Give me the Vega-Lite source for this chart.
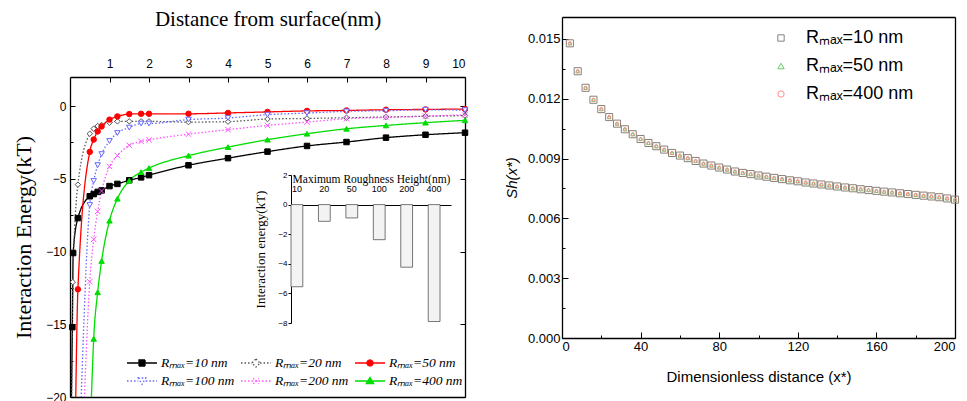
{
  "$schema": "https://vega.github.io/schema/vega-lite/v6.json",
  "background": "white",
  "padding": {"left": 12, "top": 8, "right": 6, "bottom": 4},
  "spacing": 34,
  "config": {
    "view": {"stroke": null},
    "axis": {"grid": false, "domainColor": "black", "domainWidth": 1.3, "tickColor": "black", "labelColor": "black", "titleColor": "black", "labelFont": "Liberation Sans", "titleFontWeight": "normal"},
    "legend": {"titleFontSize": 0},
    "point": {"opacity": 1, "strokeWidth": 1, "size": 30, "clip": true, "filled": true}
  },
  "datasets": {
    "energy": [
      {"x": 0.03, "e": -21, "s": "10"}, {"x": 0.06, "e": -15.2, "s": "10"}, {"x": 0.08, "e": -10.1, "s": "10"}, {"x": 0.2, "e": -7.7, "s": "10"}, {"x": 0.5, "e": -6.2, "s": "10"}, {"x": 0.6, "e": -6.05, "s": "10"}, {"x": 0.7, "e": -5.9, "s": "10"}, {"x": 0.8, "e": -5.8, "s": "10"}, {"x": 1.0, "e": -5.5, "s": "10"}, {"x": 1.2, "e": -5.35, "s": "10"}, {"x": 1.5, "e": -5.1, "s": "10"}, {"x": 1.8, "e": -4.9, "s": "10"}, {"x": 2, "e": -4.75, "s": "10"}, {"x": 3, "e": -4.07, "s": "10"}, {"x": 4, "e": -3.58, "s": "10"}, {"x": 5, "e": -3.13, "s": "10"}, {"x": 6, "e": -2.74, "s": "10"}, {"x": 7, "e": -2.47, "s": "10"}, {"x": 8, "e": -2.17, "s": "10"}, {"x": 9, "e": -1.97, "s": "10"}, {"x": 10, "e": -1.83, "s": "10"},
      {"x": 0.04, "e": -21, "s": "20"}, {"x": 0.07, "e": -12.1, "s": "20"}, {"x": 0.2, "e": -5.4, "s": "20"}, {"x": 0.5, "e": -1.9, "s": "20"}, {"x": 0.6, "e": -1.55, "s": "20"}, {"x": 0.7, "e": -1.37, "s": "20"}, {"x": 0.8, "e": -1.3, "s": "20"}, {"x": 1.0, "e": -1.14, "s": "20"}, {"x": 1.2, "e": -1.05, "s": "20"}, {"x": 1.5, "e": -1.05, "s": "20"}, {"x": 1.8, "e": -1.05, "s": "20"}, {"x": 2, "e": -1.05, "s": "20"}, {"x": 3, "e": -1.1, "s": "20"}, {"x": 4, "e": -1.07, "s": "20"}, {"x": 5, "e": -0.89, "s": "20"}, {"x": 6, "e": -0.85, "s": "20"}, {"x": 7, "e": -0.8, "s": "20"}, {"x": 8, "e": -0.75, "s": "20"}, {"x": 9, "e": -0.7, "s": "20"}, {"x": 10, "e": -0.65, "s": "20"},
      {"x": 0.14, "e": -21, "s": "50"}, {"x": 0.2, "e": -12.6, "s": "50"}, {"x": 0.5, "e": -3.15, "s": "50"}, {"x": 0.6, "e": -2.3, "s": "50"}, {"x": 0.7, "e": -1.74, "s": "50"}, {"x": 0.8, "e": -1.4, "s": "50"}, {"x": 1.0, "e": -0.93, "s": "50"}, {"x": 1.2, "e": -0.71, "s": "50"}, {"x": 1.5, "e": -0.55, "s": "50"}, {"x": 1.8, "e": -0.53, "s": "50"}, {"x": 2, "e": -0.53, "s": "50"}, {"x": 3, "e": -0.53, "s": "50"}, {"x": 4, "e": -0.47, "s": "50"}, {"x": 5, "e": -0.4, "s": "50"}, {"x": 6, "e": -0.33, "s": "50"}, {"x": 7, "e": -0.3, "s": "50"}, {"x": 8, "e": -0.25, "s": "50"}, {"x": 9, "e": -0.23, "s": "50"}, {"x": 10, "e": -0.2, "s": "50"},
      {"x": 0.27, "e": -21, "s": "100"}, {"x": 0.5, "e": -6.8, "s": "100"}, {"x": 0.6, "e": -5.15, "s": "100"}, {"x": 0.7, "e": -4.06, "s": "100"}, {"x": 0.8, "e": -3.3, "s": "100"}, {"x": 1.0, "e": -2.4, "s": "100"}, {"x": 1.2, "e": -1.85, "s": "100"}, {"x": 1.5, "e": -1.48, "s": "100"}, {"x": 1.8, "e": -1.2, "s": "100"}, {"x": 2, "e": -1.2, "s": "100"}, {"x": 3, "e": -0.93, "s": "100"}, {"x": 4, "e": -0.82, "s": "100"}, {"x": 5, "e": -0.59, "s": "100"}, {"x": 6, "e": -0.48, "s": "100"}, {"x": 7, "e": -0.36, "s": "100"}, {"x": 8, "e": -0.32, "s": "100"}, {"x": 9, "e": -0.25, "s": "100"}, {"x": 10, "e": -0.28, "s": "100"},
      {"x": 0.35, "e": -21, "s": "200"}, {"x": 0.5, "e": -12.07, "s": "200"}, {"x": 0.6, "e": -9.16, "s": "200"}, {"x": 0.7, "e": -7.24, "s": "200"}, {"x": 0.8, "e": -5.84, "s": "200"}, {"x": 1.0, "e": -4.16, "s": "200"}, {"x": 1.2, "e": -3.4, "s": "200"}, {"x": 1.5, "e": -2.7, "s": "200"}, {"x": 1.8, "e": -2.43, "s": "200"}, {"x": 2, "e": -2.32, "s": "200"}, {"x": 3, "e": -1.93, "s": "200"}, {"x": 4, "e": -1.62, "s": "200"}, {"x": 5, "e": -1.33, "s": "200"}, {"x": 6, "e": -1.1, "s": "200"}, {"x": 7, "e": -0.87, "s": "200"}, {"x": 8, "e": -0.78, "s": "200"}, {"x": 9, "e": -0.69, "s": "200"}, {"x": 10, "e": -0.6, "s": "200"},
      {"x": 0.53, "e": -21, "s": "400"}, {"x": 0.6, "e": -16.0, "s": "400"}, {"x": 0.7, "e": -12.8, "s": "400"}, {"x": 0.8, "e": -10.65, "s": "400"}, {"x": 1.0, "e": -7.88, "s": "400"}, {"x": 1.2, "e": -6.37, "s": "400"}, {"x": 1.5, "e": -5.13, "s": "400"}, {"x": 1.8, "e": -4.54, "s": "400"}, {"x": 2, "e": -4.26, "s": "400"}, {"x": 3, "e": -3.41, "s": "400"}, {"x": 4, "e": -2.82, "s": "400"}, {"x": 5, "e": -2.31, "s": "400"}, {"x": 6, "e": -1.9, "s": "400"}, {"x": 7, "e": -1.56, "s": "400"}, {"x": 8, "e": -1.33, "s": "400"}, {"x": 9, "e": -1.14, "s": "400"}, {"x": 10, "e": -0.98, "s": "400"}
    ],
    "inset": [
      {"h": "10", "v": -5.55}, {"h": "20", "v": -1.13}, {"h": "50", "v": -0.9}, {"h": "100", "v": -2.37}, {"h": "200", "v": -4.23}, {"h": "400", "v": -7.9}
    ],
    "sh": [
      {"x": 4, "sh": 0.01478}, {"x": 8, "sh": 0.01338}, {"x": 12, "sh": 0.01255}, {"x": 16, "sh": 0.01195}, {"x": 20, "sh": 0.01148}, {"x": 24, "sh": 0.01108}, {"x": 28, "sh": 0.01075}, {"x": 32, "sh": 0.01047}, {"x": 36, "sh": 0.01022}, {"x": 40, "sh": 0.00998},
      {"x": 44, "sh": 0.00978}, {"x": 48, "sh": 0.00962}, {"x": 52, "sh": 0.00945}, {"x": 56, "sh": 0.00928}, {"x": 60, "sh": 0.00915}, {"x": 64, "sh": 0.00902}, {"x": 68, "sh": 0.00888}, {"x": 72, "sh": 0.00875}, {"x": 76, "sh": 0.00865}, {"x": 80, "sh": 0.00855},
      {"x": 84, "sh": 0.00845}, {"x": 88, "sh": 0.00835}, {"x": 92, "sh": 0.00828}, {"x": 96, "sh": 0.00822}, {"x": 100, "sh": 0.00815}, {"x": 104, "sh": 0.00809}, {"x": 108, "sh": 0.00803}, {"x": 112, "sh": 0.00797}, {"x": 116, "sh": 0.00791}, {"x": 120, "sh": 0.00786},
      {"x": 124, "sh": 0.0078}, {"x": 128, "sh": 0.00775}, {"x": 132, "sh": 0.0077}, {"x": 136, "sh": 0.00765}, {"x": 140, "sh": 0.0076}, {"x": 144, "sh": 0.00755}, {"x": 148, "sh": 0.00751}, {"x": 152, "sh": 0.00746}, {"x": 156, "sh": 0.00742}, {"x": 160, "sh": 0.00738},
      {"x": 164, "sh": 0.00734}, {"x": 168, "sh": 0.0073}, {"x": 172, "sh": 0.00726}, {"x": 176, "sh": 0.00722}, {"x": 180, "sh": 0.00718}, {"x": 184, "sh": 0.00714}, {"x": 188, "sh": 0.0071}, {"x": 192, "sh": 0.00706}, {"x": 196, "sh": 0.007}, {"x": 200, "sh": 0.00694}
    ]
  },
  "resolve": {"scale": {"stroke": "independent", "shape": "independent", "strokeDash": "independent"}, "legend": {"stroke": "independent", "shape": "independent"}},
  "hconcat": [
    {
      "width": 395,
      "height": 380,
      "resolve": {"scale": {"x": "independent", "y": "independent"}},
      "layer": [
        {
          "data": {"name": "energy"},
          "resolve": {"axis": {"x": "independent", "y": "independent"}},
          "encoding": {
            "x": {"field": "x", "type": "quantitative", "scale": {"domain": [0, 10], "nice": false}, "axis": null},
            "y": {"field": "e", "type": "quantitative", "scale": {"domain": [-20, 2], "range": [380, 60], "nice": false}, "axis": null},
            "stroke": {"field": "s", "type": "nominal", "sort": null}
          },
          "layer": [
            {
              "mark": {"type": "line", "interpolate": "monotone", "clip": true, "strokeWidth": 1.3},
              "encoding": {
                "x": {"field": "x", "type": "quantitative",
                  "axis": {"orient": "top", "offset": -60, "values": [1, 2, 3, 4, 5, 6, 7, 8, 9, 10], "tickSize": -5, "labelPadding": 12, "labelFontSize": 12, "title": "Distance from surface(nm)", "titleFont": "Liberation Serif", "titleFontSize": 21, "titlePadding": 28}},
                "y": {"field": "e", "type": "quantitative",
                  "axis": {"orient": "left", "values": [-20, -15, -10, -5, 0], "tickSize": -5, "labelPadding": 9, "labelFontSize": 12, "title": "Interaction Energy(kT)", "titleFont": "Liberation Serif", "titleFontSize": 22, "titlePadding": 10}},
                "stroke": {"field": "s", "type": "nominal", "sort": null,
                  "scale": {"domain": ["10", "20", "50", "100", "200", "400"], "range": ["#000000", "#555555", "#ff0000", "#6666ff", "#ff55ff", "#00dd00"]},
                  "legend": {"orient": "none", "legendX": 56, "legendY": 330, "direction": "horizontal", "columns": 3, "gridAlign": "none", "title": null,
                    "symbolSize": 900, "symbolStrokeWidth": 1.3, "labelFont": "Liberation Serif", "labelFontStyle": "italic", "labelFontSize": 13.5, "labelOffset": 3, "columnPadding": 3, "rowPadding": -5,
                    "labelExpr": "'Rₘₐₓ=' + datum.label + ' nm'",
                    "encode": {"symbols": {"update": {
                      "shape": {"signal": "datum.value==='10'?'M-1,0H1M-0.2,-0.2H0.2V0.2H-0.2Z':datum.value==='20'?'M-1,0H-0.27M0.27,0H1M0,-0.27L0.27,0L0,0.27L-0.27,0Z':datum.value==='50'?'M-1,0H1M-0.2,0A0.2,0.2,0,1,0,0.2,0A0.2,0.2,0,1,0,-0.2,0Z':datum.value==='100'?'M-1,0H-0.25M0.25,0H1M-0.25,-0.2L0.25,-0.2L0,0.22Z':datum.value==='200'?'M-1,0H1M-0.18,-0.18L0.18,0.18M-0.18,0.18L0.18,-0.18':'M-1,0H1M-0.25,0.18L0.25,0.18L0,-0.24Z'"},
                      "fill": {"signal": "datum.value==='10'?'black':datum.value==='50'?'red':datum.value==='400'?'#00dd00':'white'"}
                    }}}}},
                "strokeDash": {"field": "s", "type": "nominal", "sort": null,
                  "scale": {"domain": ["10", "20", "50", "100", "200", "400"], "range": [[1, 0], [1.5, 2], [1, 0], [1.5, 2], [1.5, 2], [1, 0]]}}
              }
            },
            {
              "transform": [{"filter": {"field": "s", "equal": "10"}}],
              "mark": {"type": "point", "shape": "square", "fill": "#000000"},
              "encoding": {
                "x": {"field": "x", "type": "quantitative",
                  "axis": {"orient": "bottom", "labels": false, "ticks": false, "domain": true, "title": null}},
                "y": {"field": "e", "type": "quantitative",
                  "axis": {"orient": "right", "values": [-20, -15, -10, -5, 0], "tickSize": -5, "labels": false, "domain": true, "title": null}}
              }
            },
            {
              "transform": [{"filter": {"field": "s", "equal": "20"}}],
              "mark": {"type": "point", "shape": "diamond", "fill": "#ffffff"},
              "encoding": {
                "y": {"field": "e", "type": "quantitative",
                  "axis": {"orient": "left", "values": [-17.5, -12.5, -7.5, -2.5], "tickSize": -3, "labels": false, "domain": false, "title": null}}
              }
            },
            {
              "transform": [{"filter": {"field": "s", "equal": "50"}}],
              "mark": {"type": "point", "shape": "circle", "fill": "#ff0000"}
            },
            {
              "transform": [{"filter": {"field": "s", "equal": "100"}}],
              "mark": {"type": "point", "shape": "triangle-down", "fill": "#ffffff"}
            },
            {
              "transform": [{"filter": {"field": "s", "equal": "200"}}],
              "mark": {"type": "point", "shape": "M-1,-1L1,1M-1,1L1,-1", "fill": "#ffffff"}
            },
            {
              "transform": [{"filter": {"field": "s", "equal": "400"}}],
              "mark": {"type": "point", "shape": "triangle-up", "fill": "#00dd00"}
            }
          ]
        },
        {
          "data": {"name": "inset"},
          "mark": {"type": "bar", "fill": "#f3f3f3", "stroke": "#555555", "strokeWidth": 0.8},
          "encoding": {
            "x": {"field": "h", "type": "ordinal", "sort": null,
              "scale": {"domain": ["10", "20", "50", "100", "200", "400"], "range": [221, 381], "paddingInner": 0.57, "paddingOuter": 0.2, "align": 0},
              "axis": {"orient": "top", "offset": -188, "ticks": false, "domainWidth": 1, "labelAngle": 0, "labelPadding": 12, "labelFontSize": 9, "title": "Maximum Roughness Height(nm)", "titleFont": "Liberation Serif", "titleFontSize": 11.5, "titleFontWeight": "normal", "titlePadding": 0}},
            "y": {"field": "v", "type": "quantitative",
              "scale": {"domain": [-8, 2], "range": [306, 158], "nice": false},
              "axis": {"orient": "left", "offset": -221, "values": [-8, -6, -4, -2, 0, 2], "tickSize": 3, "domainWidth": 1, "labelPadding": 1, "labelFontSize": 8, "title": "Interaction energy(kT)", "titleFont": "Liberation Serif", "titleFontSize": 13, "titleFontWeight": "normal", "titlePadding": 10}}
          }
        }
      ]
    },
    {
      "width": 393,
      "height": 321,
      "data": {"name": "sh"},
      "resolve": {"axis": {"x": "independent", "y": "independent"}},
      "layer": [
        {
          "mark": {"type": "point", "shape": "square", "filled": false, "size": 50},
          "encoding": {
            "x": {"field": "x", "type": "quantitative", "scale": {"domain": [0, 200], "nice": false},
              "axis": {"orient": "bottom", "values": [0, 40, 80, 120, 160, 200], "tickSize": -6, "labelPadding": 8, "labelFontSize": 13, "title": "Dimensionless distance (x*)", "titleFontSize": 15, "titlePadding": 16}},
            "y": {"field": "sh", "type": "quantitative", "scale": {"domain": [0, 0.0161], "nice": false},
              "axis": {"orient": "left", "values": [0, 0.003, 0.006, 0.009, 0.012, 0.015], "format": ".3f", "tickSize": -6, "labelPadding": 8, "labelFontSize": 13, "title": "Sh(x*)", "titleFontStyle": "italic", "titleFontSize": 15, "titlePadding": 8}},
            "stroke": {"datum": "10", "type": "nominal",
              "scale": {"domain": ["10", "50", "400"], "range": ["#8a7f76", "#66cc66", "#ff8c8c"]},
              "legend": {"orient": "none", "legendX": 210, "legendY": 12, "title": null, "symbolSize": 40, "symbolStrokeWidth": 1, "labelFont": "Liberation Sans", "labelFontSize": 18, "labelOffset": 16, "rowPadding": 10,
                "labelExpr": "'Rₘₐₓ=' + datum.label + ' nm'",
                "encode": {"symbols": {"update": {"size": {"signal": "datum.value==='10'?45:14"}}}}}},
            "shape": {"datum": "10", "type": "nominal",
              "scale": {"domain": ["10", "50", "400"], "range": ["square", "triangle-up", "circle"]}}
          }
        },
        {
          "mark": {"type": "point", "filled": false, "size": 14},
          "encoding": {
            "x": {"field": "x", "type": "quantitative",
              "axis": {"orient": "bottom", "values": [20, 60, 100, 140, 180], "tickSize": -3, "labels": false, "domain": false, "title": null}},
            "y": {"field": "sh", "type": "quantitative",
              "axis": {"orient": "left", "values": [0.0015, 0.0045, 0.0075, 0.0105, 0.0135], "tickSize": -3, "labels": false, "domain": false, "title": null}},
            "stroke": {"datum": "50", "type": "nominal"},
            "shape": {"datum": "50", "type": "nominal"}
          }
        },
        {
          "mark": {"type": "point", "filled": false, "size": 10},
          "encoding": {
            "x": {"field": "x", "type": "quantitative",
              "axis": {"orient": "top", "labels": false, "ticks": false, "domain": true, "title": null}},
            "y": {"field": "sh", "type": "quantitative",
              "axis": {"orient": "right", "labels": false, "ticks": false, "domain": true, "title": null}},
            "stroke": {"datum": "400", "type": "nominal"},
            "shape": {"datum": "400", "type": "nominal"}
          }
        }
      ]
    }
  ]
}
